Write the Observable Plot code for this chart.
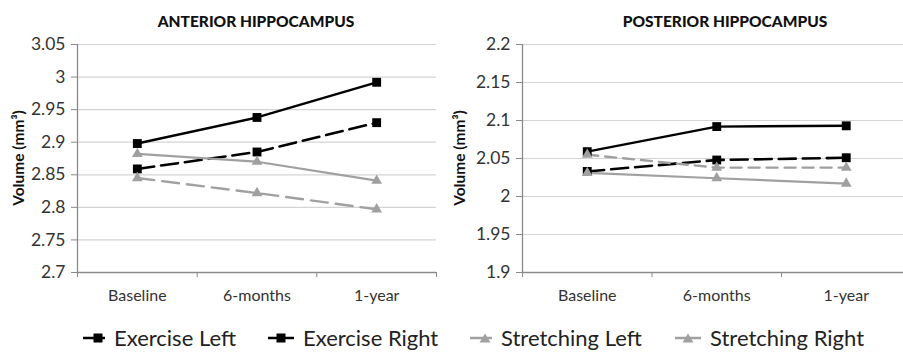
<!DOCTYPE html>
<html>
<head>
<meta charset="utf-8">
<script src="https://cdn.jsdelivr.net/npm/d3@7"></script>
<script src="https://cdn.jsdelivr.net/npm/@observablehq/plot@0.6"></script>
<style>
  html, body { margin: 0; padding: 0; background: #fff; }
  #fig { position: relative; width: 903px; height: 352px; overflow: hidden; font-family: Lato, "Open Sans", sans-serif; background: #fff; }
  .panel { position: absolute; top: 0; }
  .title { position: absolute; top: 12px; font-weight: 900; font-size: 15.5px; color: #111; white-space: nowrap; transform: translateX(-50%); }
  .ylab { position: absolute; top: 158px; font-weight: bold; font-size: 15.5px; color: #111; white-space: nowrap; transform: translate(-50%, -50%) rotate(-90deg); }
  .leg { position: absolute; top: 324px; display: flex; align-items: center; font-size: 22px; color: #222; white-space: nowrap; }
  .leg svg { margin-right: 5px; }
</style>
</head>
<body>
<div id="fig"></div>
<script>
// ---- data ----
const categories = ["Baseline", "6-months", "1-year"];
const seriesNames = ["Exercise Left", "Exercise Right", "Stretching Left", "Stretching Right"];
const panelTitles = ["ANTERIOR HIPPOCAMPUS", "POSTERIOR HIPPOCAMPUS"];

const anteriorExerciseLeft    = [2.859, 2.885, 2.930];
const anteriorExerciseRight   = [2.898, 2.938, 2.992];
const anteriorStretchingLeft  = [2.845, 2.822, 2.797];
const anteriorStretchingRight = [2.882, 2.870, 2.841];

const posteriorExerciseLeft    = [2.033, 2.048, 2.051];
const posteriorExerciseRight   = [2.059, 2.092, 2.093];
const posteriorStretchingLeft  = [2.055, 2.038, 2.038];
const posteriorStretchingRight = [2.031, 2.024, 2.017];

const anteriorTicks  = [2.7, 2.75, 2.8, 2.85, 2.9, 2.95, 3, 3.05];
const posteriorTicks = [1.9, 1.95, 2, 2.05, 2.1, 2.15, 2.2];
const yLabel = "Volume (mm³)";

// ---- styles ----
const styles = {
  "Exercise Left":    {stroke: "#000", dash: "17,7", symbol: "square", r: 5, width: 2.6},
  "Exercise Right":   {stroke: "#000", dash: null,   symbol: "square", r: 5, width: 2.4},
  "Stretching Left":  {stroke: "#a0a0a0", dash: "17,8", symbol: "triangle", r: 4, width: 2.4},
  "Stretching Right": {stroke: "#a0a0a0", dash: null,   symbol: "triangle", r: 4, width: 2.2}
};

function rows(vals) {
  return seriesNames.flatMap((s, k) => vals[k].map((v, i) => ({series: s, i, cat: categories[i], value: v})));
}

function panel({vals, ticks, width, marginLeft, marginRight, xRange, grayDash}) {
  const data = rows(vals);
  const y0 = ticks[0];
  const marks = [
    Plot.gridY(ticks, {stroke: "#d4d4d4", strokeOpacity: 1, strokeWidth: 1.2}),
    Plot.ruleY([y0], {stroke: "#8a8a8a", strokeWidth: 1.3}),
    Plot.ruleX([0], {stroke: "#8a8a8a", strokeWidth: 1.3}),
    Plot.axisY(ticks, {label: null, tickFormat: d => String(d), tickSize: 6, tickPadding: 6, fontSize: 17.5, stroke: "#8a8a8a", fill: "#333"}),
    Plot.axisX([0, 1, 2, 3], {label: null, tickFormat: () => "", tickSize: 5, stroke: "#8a8a8a"}),
    Plot.text(categories, {x: (d, i) => i + 0.5, frameAnchor: "bottom", dy: 28, fontSize: 16, fill: "#333"})
  ];
  for (const s of seriesNames) {
    const st = styles[s];
    const sd = data.filter(d => d.series === s);
    let dash = st.dash;
    if (s === "Stretching Left" && grayDash) dash = grayDash;
    marks.push(Plot.line(sd, {x: d => d.i + 0.5, y: "value", stroke: st.stroke, strokeWidth: st.width, strokeDasharray: dash}));
  }
  for (const s of seriesNames) {
    const st = styles[s];
    const sd = data.filter(d => d.series === s);
    marks.push(Plot.dot(sd, {x: d => d.i + 0.5, y: "value", symbol: st.symbol, r: st.r, fill: st.stroke, stroke: "none"}));
  }
  return Plot.plot({
    width, height: 310,
    marginTop: 44, marginBottom: 38, marginLeft, marginRight,
    style: {fontFamily: "Lato, 'Open Sans', sans-serif", background: "transparent", overflow: "visible"},
    x: {type: "linear", domain: [0, 3], range: xRange, axis: null, label: null},
    y: {domain: [ticks[0], ticks[ticks.length - 1]], axis: null, label: null},
    marks
  });
}

const fig = document.getElementById("fig");

const left = panel({
  vals: [anteriorExerciseLeft, anteriorExerciseRight, anteriorStretchingLeft, anteriorStretchingRight],
  ticks: anteriorTicks, width: 450, marginLeft: 77, marginRight: 14, xRange: [77, 436]
});
left.classList.add("panel"); left.style.left = "0px";
fig.appendChild(left);

const right = panel({
  vals: [posteriorExerciseLeft, posteriorExerciseRight, posteriorStretchingLeft, posteriorStretchingRight],
  ticks: posteriorTicks, width: 453, marginLeft: 72, marginRight: 0, xRange: [72, 460.5], grayDash: "11,7"
});
right.classList.add("panel"); right.style.left = "450px";
fig.appendChild(right);

// titles and y labels
[[panelTitles[0], 256, 18], [panelTitles[1], 725, 459]].forEach(([t, cx, lx]) => {
  const d = document.createElement("div");
  d.className = "title"; d.textContent = t; d.style.left = cx + "px";
  fig.appendChild(d);
  const yl = document.createElement("div");
  yl.className = "ylab"; yl.textContent = yLabel; yl.style.left = lx + "px";
  fig.appendChild(yl);
});

// legend
const legendPos = [[83, true], [268, false], [470, true], [675, false]];
seriesNames.forEach((s, k) => {
  const st = styles[s];
  const item = document.createElement("div");
  item.className = "leg";
  item.style.left = legendPos[k][0] + "px";
  const w = legendPos[k][1] ? 22 : 26;
  const mx = legendPos[k][1] ? 15 : 13;
  const sym = st.symbol === "square"
    ? `<rect x="${mx - 4.5}" y="5.5" width="9" height="9" fill="${st.stroke}"/>`
    : `<path d="M${mx},5.5 L${mx + 5.5},14.5 L${mx - 5.5},14.5 Z" fill="${st.stroke}"/>`;
  item.innerHTML = `<svg width="${w + 4}" height="20"><line x1="0" x2="${w}" y1="10" y2="10" stroke="${st.stroke}" stroke-width="2.5"/>${sym}</svg><span>${s}</span>`;
  fig.appendChild(item);
});
</script>
</body>
</html>
